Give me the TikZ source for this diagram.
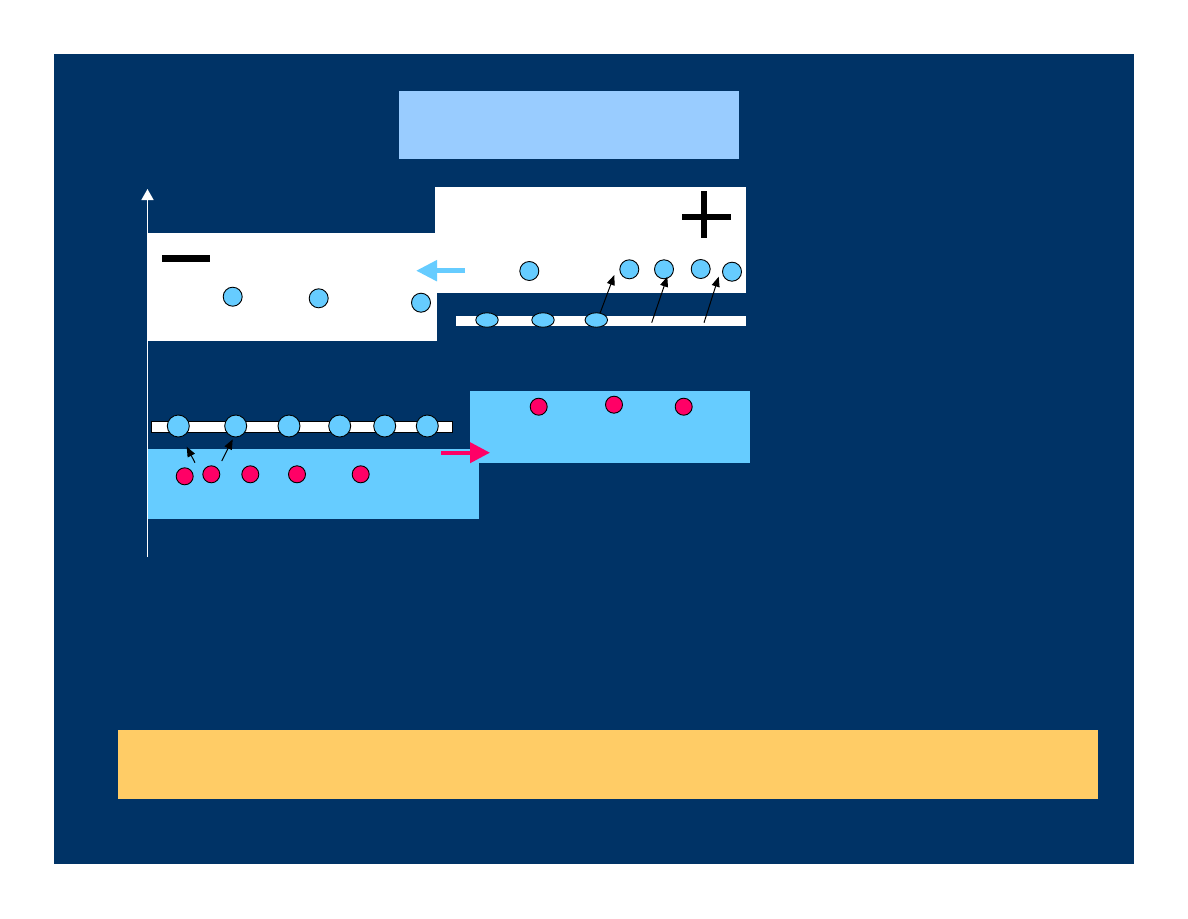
\documentclass[tikz,border=0pt]{standalone}
\usetikzlibrary{arrows.meta}
\definecolor{navy}{RGB}{0,51,102}
\definecolor{paleblue}{RGB}{153,204,255}
\definecolor{skyblue}{RGB}{102,204,255}
\definecolor{hotred}{RGB}{255,0,102}
\definecolor{sunyellow}{RGB}{255,204,102}
\tikzset{
  panel/.style={draw=none, inner sep=0pt, outer sep=0pt, anchor=north west},
  bluedot/.style={circle, draw=black, line width=0.9pt, fill=skyblue, inner sep=0pt, minimum size=19pt},
  bigdot/.style={circle, draw=black, line width=0.9pt, fill=skyblue, inner sep=0pt, minimum size=22pt},
  reddot/.style={circle, draw=black, line width=0.9pt, fill=hotred, inner sep=0pt, minimum size=17pt},
  flatdot/.style={ellipse, draw=black, line width=0.9pt, fill=skyblue, inner sep=0pt, minimum width=22.5pt, minimum height=14.5pt},
  jump/.style={line width=1pt, -{Triangle[length=10pt, width=8pt]}},
}
\usetikzlibrary{shapes.geometric}
\begin{document}
\begin{tikzpicture}[x=1pt, y=-1pt]
\useasboundingbox (0,0) rectangle (1188,918);
\fill[white] (0,0) rectangle (1188,918);
% background
\node[panel, fill=navy, minimum width=1080pt, minimum height=810pt] (bg) at (54,54) {};
% title box and bottom box
\node[panel, fill=paleblue, minimum width=340pt, minimum height=68pt] (title) at (399,91) {};
\node[panel, fill=sunyellow, minimum width=980pt, minimum height=69pt] (note) at (118,730) {};
% white boxes
\node[panel, fill=white, minimum width=289pt, minimum height=108pt] (cathode) at (148,233) {};
\node[panel, fill=white, minimum width=311pt, minimum height=106pt] (anode) at (435,187) {};
% light blue boxes
\node[panel, fill=skyblue, minimum width=332pt, minimum height=70pt] (lowleft) at (147,449) {};
\node[panel, fill=skyblue, minimum width=280pt, minimum height=72pt] (lowright) at (470,391) {};
% strips
\node[panel, fill=white, minimum width=290pt, minimum height=10pt] (stripR) at (456,316) {};
\node[panel, fill=white, draw=black, line width=0.9pt, minimum width=301pt, minimum height=10.5pt] (stripL) at (151,421.5) {};
% minus and plus signs
\node[panel, fill=black, minimum width=48pt, minimum height=7pt] (minus) at (162,255) {};
\node[panel, fill=black, minimum width=49pt, minimum height=6pt] (plusH) at (682,213.7) {};
\node[panel, fill=black, minimum width=6.7pt, minimum height=46.7pt] (plusV) at (700.6,191) {};
% axis
\coordinate (axisBot) at (147.5,557);
\coordinate (axisTop) at (147.5,189);
\draw[white, line width=1.5pt, -{Triangle[length=11pt, width=12pt]}] (axisBot) -- (axisTop);
% dots in cathode box
\node[bluedot] (c1) at (232.7,296.7) {};
\node[bluedot] (c2) at (318.7,298.3) {};
\node[bluedot] (c3) at (421,302.7) {};
% dots in anode box
\node[bluedot] (a1) at (529.3,271) {};
\node[bluedot] (a2) at (629.3,269.3) {};
\node[bluedot] (a3) at (664,269.3) {};
\node[bluedot] (a4) at (700.7,269) {};
\node[bluedot] (a5) at (732,271.7) {};
% flat dots on right strip
\node[flatdot] (e1) at (487,320) {};
\node[flatdot] (e2) at (543,320) {};
\node[flatdot] (e3) at (596.3,320) {};
% dots on left strip
\node[bigdot] (s1) at (178.3,426) {};
\node[bigdot] (s2) at (235.7,426) {};
\node[bigdot] (s3) at (289,426) {};
\node[bigdot] (s4) at (339.7,426) {};
\node[bigdot] (s5) at (384.7,426) {};
\node[bigdot] (s6) at (427.3,426) {};
% red dots
\node[reddot] (r1) at (184.7,476.3) {};
\node[reddot] (r2) at (211.3,474.3) {};
\node[reddot] (r3) at (250.3,474.3) {};
\node[reddot] (r4) at (297,474.3) {};
\node[reddot] (r5) at (360.7,474.3) {};
\node[reddot] (q1) at (538.7,406.7) {};
\node[reddot] (q2) at (614,404.7) {};
\node[reddot] (q3) at (683.7,406.7) {};
% black jump arrows (right)
\coordinate (j1a) at (600,313.3);  \coordinate (j1b) at (614.3,275);
\coordinate (j2a) at (651.7,322.7); \coordinate (j2b) at (667.3,276.7);
\coordinate (j3a) at (704,322.7);   \coordinate (j3b) at (718.7,276.7);
\draw[jump] (j1a) -- (j1b);
\draw[jump] (j2a) -- (j2b);
\draw[jump] (j3a) -- (j3b);
% black jump arrows (left)
\coordinate (k1a) at (195,462.7);  \coordinate (k1b) at (186.7,446.7);
\coordinate (k2a) at (221.7,461);  \coordinate (k2b) at (232.7,439.3);
\draw[jump] (k1a) -- (k1b);
\draw[jump] (k2a) -- (k2b);
% light blue arrow
\coordinate (bA) at (465,270.7); \coordinate (bB) at (416,270.7);
\draw[skyblue, line width=5pt, -{Triangle[length=21pt, width=20pt]}] (bA) -- (bB);
% red arrow
\coordinate (rA) at (441,452.7); \coordinate (rB) at (490,452.7);
\draw[hotred, line width=4pt, -{Triangle[length=20pt, width=20pt]}] (rA) -- (rB);
\end{tikzpicture}
\end{document}
